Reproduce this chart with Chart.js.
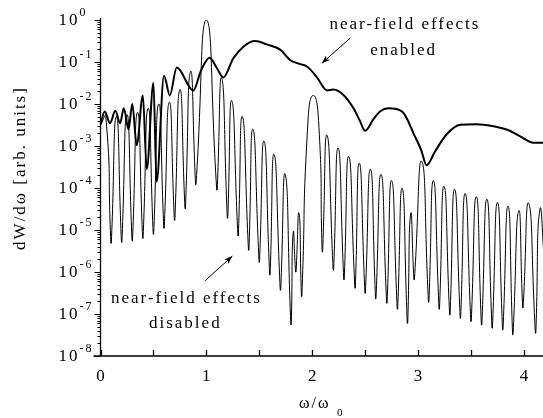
<!DOCTYPE html>
<html>
<head>
<meta charset="utf-8">
<script src="https://cdn.jsdelivr.net/npm/chart.js@4.4.0/dist/chart.umd.min.js"></script>
<style>
html, body { margin: 0; padding: 0; background: #fff; }
canvas { display: block; }
</style>
</head>
<body>
<canvas id="myChart" width="543" height="418"></canvas>
<script>
// near-field effects disabled (thin curve): omega / omega0 and dW/domega
// each null is listed as a narrow pair so the dips stay sharp
var disabledW = [0, 0.05, 0.098, 0.102, 0.15, 0.198, 0.202, 0.25, 0.298, 0.302, 0.35, 0.398, 0.402, 0.45, 0.498, 0.502,
    0.55, 0.598, 0.602, 0.65, 0.698, 0.702, 0.75, 0.798, 0.802, 0.85, 0.898, 0.902,
    1.00, 1.098, 1.102,
    1.145, 1.198, 1.202, 1.24, 1.298, 1.302, 1.34, 1.398, 1.402, 1.44, 1.498, 1.502, 1.545, 1.598, 1.602,
    1.64, 1.698, 1.702, 1.745, 1.798, 1.802, 1.82, 1.843, 1.847, 1.875, 1.898, 1.902,
    1.96, 2.01, 2.06, 2.094, 2.098,
    2.14, 2.198, 2.202, 2.245, 2.298, 2.302, 2.345, 2.403, 2.407, 2.445, 2.498, 2.502, 2.55, 2.598, 2.602,
    2.65, 2.703, 2.707, 2.75, 2.803, 2.807, 2.85, 2.898, 2.902, 2.93, 2.961, 2.965,
    3.035, 3.098, 3.102,
    3.145, 3.198, 3.202, 3.245, 3.298, 3.302, 3.345, 3.398, 3.402, 3.445, 3.498, 3.502, 3.55, 3.598, 3.602,
    3.65, 3.698, 3.702, 3.75, 3.798, 3.802, 3.85, 3.893, 3.897, 3.95, 3.988, 3.992, 4.045, 4.108, 4.112, 4.15, 4.20];
var disabledV = [3.2e-3, 5.0e-3, 4.8e-6, 4.8e-6, 5.0e-3, 5.1e-6, 5.1e-6, 5.6e-3, 5.5e-6, 5.5e-6, 6.3e-3, 6.3e-6, 6.3e-6, 7.9e-3, 7.9e-6, 7.9e-6,
    1.0e-2, 1.1e-5, 1.1e-5, 1.1e-2, 1.7e-5, 1.7e-5, 2.2e-2, 3.2e-5, 3.2e-5, 5.9e-2, 1.2e-4, 1.2e-4,
    1.0, 8.9e-5, 8.9e-5,
    4.1e-2, 1.9e-5, 1.9e-5, 1.2e-2, 7.2e-6, 7.2e-6, 5.0e-3, 3.3e-6, 3.3e-6, 2.5e-3, 1.7e-6, 1.7e-6, 1.3e-3, 8.5e-7, 8.5e-7,
    6.3e-4, 3.7e-7, 3.7e-7, 2.1e-4, 5.5e-8, 5.5e-8, 8.5e-6, 1.0e-6, 1.0e-6, 2.5e-5, 2.6e-7, 2.6e-7,
    4.0e-3, 1.6e-2, 4.0e-3, 3.0e-6, 3.0e-6,
    1.8e-3, 1.1e-6, 1.1e-6, 8.9e-4, 6.5e-7, 6.5e-7, 5.6e-4, 4.1e-7, 4.1e-7, 3.9e-4, 3.1e-7, 3.1e-7, 2.8e-4, 2.3e-7, 2.3e-7,
    2.1e-4, 1.8e-7, 1.8e-7, 1.5e-4, 1.3e-7, 1.3e-7, 9.8e-5, 6.0e-8, 6.0e-8, 2.4e-5, 6.5e-7, 6.5e-7,
    4.3e-4, 1.9e-7, 1.9e-7,
    1.5e-4, 1.3e-7, 1.3e-7, 1.1e-4, 9.5e-8, 9.5e-8, 9.3e-5, 7.9e-8, 7.9e-8, 7.4e-5, 6.6e-8, 6.6e-8, 6.2e-5, 5.5e-8, 5.5e-8,
    5.4e-5, 4.6e-8, 4.6e-8, 4.5e-5, 4.2e-8, 4.2e-8, 3.7e-5, 3.2e-8, 3.2e-8, 2.8e-5, 1.4e-7, 1.4e-7, 4.3e-5, 3.5e-8, 3.5e-8, 3.0e-5, 1.0e-6];

// near-field effects enabled (thick curve)
var enabledW = [0, 0.04, 0.09, 0.14, 0.185, 0.22, 0.265, 0.30, 0.342, 0.40, 0.437, 0.50, 0.53, 0.60, 0.655, 0.72, 0.877,
    0.95, 1.03, 1.10, 1.16, 1.255, 1.35, 1.46, 1.57, 1.70, 1.79, 1.886, 1.95, 2.04, 2.14, 2.20, 2.30, 2.39, 2.45, 2.50,
    2.58, 2.64, 2.72, 2.85, 2.97, 3.03, 3.08, 3.16, 3.27, 3.40, 3.55, 3.70, 3.85, 3.965, 4.09, 4.18];
var enabledV = [3.2e-3, 6.6e-3, 3.5e-3, 6.9e-3, 3.5e-3, 7.9e-3, 2.5e-3, 1.0e-2, 1.05e-3, 1.6e-2, 2.8e-4, 3.2e-2, 1.4e-4, 4.7e-2, 1.6e-2, 7.4e-2, 2.1e-2,
    6.3e-2, 0.126, 7.1e-2, 4.3e-2, 0.123, 0.232, 0.316, 0.263, 0.195, 0.112, 8.9e-2, 7.8e-2, 4.5e-2, 2.1e-2, 2.2e-2, 1.6e-2, 7.9e-3, 4.0e-3, 2.3e-3,
    4.4e-3, 6.6e-3, 7.9e-3, 6.6e-3, 1.7e-3, 7.9e-4, 3.5e-4, 7.4e-4, 1.9e-3, 3.2e-3, 3.3e-3, 3.0e-3, 2.4e-3, 1.7e-3, 1.2e-3, 1.2e-3];

// axis ticks
var xTickValues = [0, 0.5, 1, 1.5, 2, 2.5, 3, 3.5, 4];
var xLabelValues = [0, 1, 2, 3, 4];
var yDecades = [-8, -7, -6, -5, -4, -3, -2, -1, 0];
var yMinorSteps = [2, 3, 4, 5, 6, 7, 8, 9];

// annotation placement in data coordinates
var notes = {
    enabled: { line1: [2.163, 0.60], line2: [2.547, 0.147], from: [2.359, 0.37], to: [2.09, 0.093] },
    disabled: { line1: [0.099, 1.86e-7], line2: [0.458, 4.57e-8], from: [0.988, 6.2e-7], to: [1.246, 2.4e-6] }
};

function pts(ws, vs) {
    return ws.map(function (w, i) { return { x: w, y: vs[i] }; });
}

var serif = '"Liberation Serif", "Times New Roman", serif';

function arrow(ctx, x1, y1, x2, y2) {
    var ang = Math.atan2(y2 - y1, x2 - x1);
    ctx.beginPath();
    ctx.moveTo(x1, y1);
    ctx.lineTo(x2, y2);
    ctx.stroke();
    ctx.beginPath();
    ctx.moveTo(x2, y2);
    ctx.lineTo(x2 - 9 * Math.cos(ang - 0.35), y2 - 9 * Math.sin(ang - 0.35));
    ctx.lineTo(x2 - 6 * Math.cos(ang), y2 - 6 * Math.sin(ang));
    ctx.lineTo(x2 - 9 * Math.cos(ang + 0.35), y2 - 9 * Math.sin(ang + 0.35));
    ctx.closePath();
    ctx.fill();
}

var axesPlugin = {
    id: 'axesPlugin',
    afterDraw: function (chart) {
        var ctx = chart.ctx, a = chart.chartArea;
        var sx = chart.scales.x, sy = chart.scales.y;
        ctx.save();
        ctx.strokeStyle = '#000';
        ctx.fillStyle = '#000';
        ctx.lineWidth = 1.3;

        // axis lines
        ctx.beginPath();
        ctx.moveTo(a.left, a.top - 2);
        ctx.lineTo(a.left, a.bottom);
        ctx.moveTo(a.left - 7, a.bottom);
        ctx.lineTo(a.right, a.bottom);
        ctx.stroke();

        // x ticks, pointing in
        ctx.beginPath();
        xTickValues.forEach(function (v) {
            var px = Math.round(sx.getPixelForValue(v)) + 0.5;
            ctx.moveTo(px, a.bottom);
            ctx.lineTo(px, a.bottom - 6);
        });
        ctx.stroke();

        // y ticks, pointing out
        ctx.lineWidth = 1;
        ctx.beginPath();
        yDecades.forEach(function (n) {
            var py = Math.round(sy.getPixelForValue(Math.pow(10, n))) + 0.5;
            ctx.moveTo(a.left - 6, py);
            ctx.lineTo(a.left, py);
            if (n < 0) {
                yMinorSteps.forEach(function (k) {
                    var q = Math.round(sy.getPixelForValue(k * Math.pow(10, n))) + 0.5;
                    ctx.moveTo(a.left - 3, q);
                    ctx.lineTo(a.left, q);
                });
            }
        });
        ctx.stroke();

        ctx.letterSpacing = '2px';
        // x tick labels
        ctx.font = '17px ' + serif;
        ctx.textAlign = 'center';
        ctx.textBaseline = 'middle';
        xLabelValues.forEach(function (v) {
            ctx.fillText(String(v), sx.getPixelForValue(v) + 1, a.bottom + 21);
        });

        // y tick labels 10^n
        yDecades.forEach(function (n) {
            var py = sy.getPixelForValue(Math.pow(10, n));
            ctx.font = '17px ' + serif;
            ctx.textAlign = 'right';
            ctx.textBaseline = 'middle';
            ctx.fillText('10', a.left - 21, py + 1);
            ctx.font = '12px ' + serif;
            ctx.textAlign = 'left';
            ctx.fillText(n === 0 ? '0' : '-' + (-n), a.left - 21, py - 7);
        });

        // axis titles
        ctx.font = '16px ' + serif;
        ctx.textAlign = 'left';
        ctx.textBaseline = 'alphabetic';
        ctx.fillText('\u03c9/\u03c9', a.left + 198.5, a.bottom + 52);
        ctx.font = '11px ' + serif;
        ctx.fillText('0', a.left + 236.5, a.bottom + 60);

        ctx.save();
        ctx.translate(a.left - 80, a.top + 148);
        ctx.rotate(-Math.PI / 2);
        ctx.font = '17px ' + serif;
        ctx.textAlign = 'center';
        ctx.textBaseline = 'middle';
        ctx.fillText('dW/d\u03c9 [arb. units]', 0, 0);
        ctx.restore();

        // annotations
        ctx.font = '17px ' + serif;
        ctx.textAlign = 'left';
        ctx.textBaseline = 'alphabetic';
        ctx.lineWidth = 1;
        [['enabled', notes.enabled], ['disabled', notes.disabled]].forEach(function (e) {
            var n = e[1];
            ctx.fillText('near-field effects', sx.getPixelForValue(n.line1[0]), sy.getPixelForValue(n.line1[1]));
            ctx.fillText(e[0], sx.getPixelForValue(n.line2[0]), sy.getPixelForValue(n.line2[1]));
            arrow(ctx, sx.getPixelForValue(n.from[0]), sy.getPixelForValue(n.from[1]),
                sx.getPixelForValue(n.to[0]), sy.getPixelForValue(n.to[1]));
        });
        ctx.restore();
    }
};

var ctx = document.getElementById('myChart').getContext('2d');
var chart = new Chart(ctx, {
    type: 'line',
    data: {
        datasets: [{
            label: 'near-field effects enabled',
            data: pts(enabledW, enabledV),
            borderColor: '#000',
            borderWidth: 2,
            pointRadius: 0,
            cubicInterpolationMode: 'monotone'
        }, {
            label: 'near-field effects disabled',
            data: pts(disabledW, disabledV),
            borderColor: '#000',
            borderWidth: 1,
            pointRadius: 0,
            tension: 0.6
        }]
    },
    options: {
        responsive: false,
        animation: false,
        devicePixelRatio: 1,
        layout: { padding: { left: 100.5, top: 20, right: 0, bottom: 62 } },
        scales: {
            x: { type: 'linear', min: 0, max: 4.18, display: false },
            y: { type: 'logarithmic', min: 1e-8, max: 1, display: false }
        },
        plugins: { legend: { display: false }, tooltip: { enabled: false } }
    },
    plugins: [axesPlugin]
});
</script>
</body>
</html>
